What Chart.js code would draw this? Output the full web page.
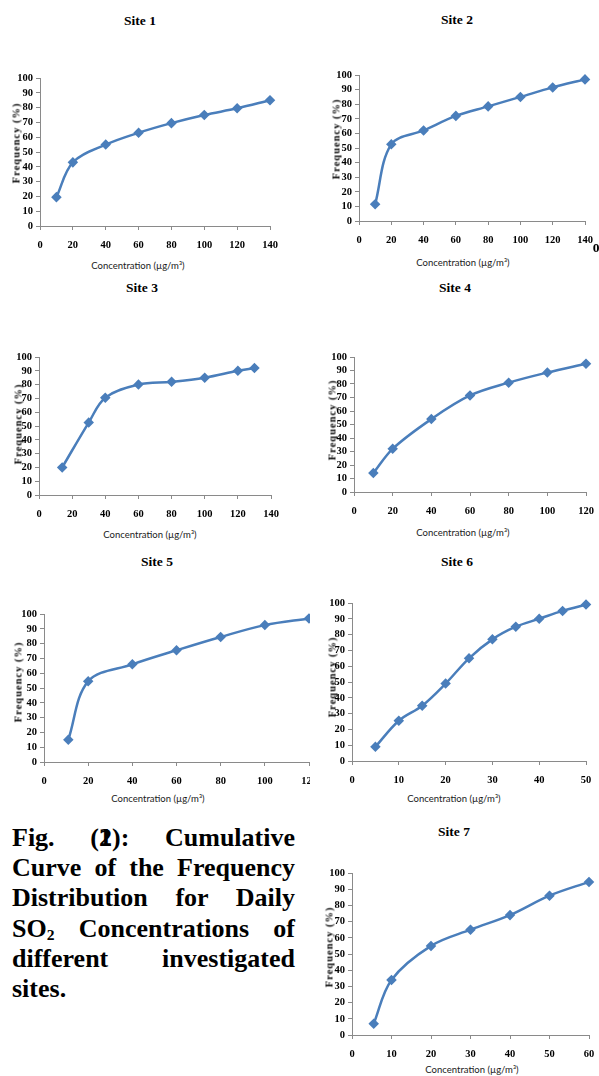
<!DOCTYPE html>
<html>
<head>
<meta charset="utf-8">
<script src="https://cdn.jsdelivr.net/npm/chart.js@4.4.0/dist/chart.umd.min.js"></script>
<style>
  html, body { margin: 0; padding: 0; background: #fff; overflow: hidden; }
  body { width: 599px; height: 1076px; position: relative; }
  .wrap { position: absolute; overflow: hidden; }
  .txt { position: absolute; white-space: nowrap; transform: translate(-50%, -50%); color: #000; }
  .site { font: bold 13.5px "Liberation Serif", serif; }
  .xt { font: 9.5px Lato, "Liberation Sans", sans-serif; color: #1a1a1a; }
  .yt { font: bold 10.5px "Liberation Serif", serif; letter-spacing: 1px; transform: translate(-50%, -50%) rotate(-90deg); }
  #caption { position: absolute; left: 12px; top: 823px; width: 283px;
             font: bold 26px "Liberation Serif", "Times New Roman", serif; line-height: 30.2px; }
  #caption div { text-align: justify; text-align-last: justify; white-space: nowrap; }
  #caption div.last { text-align-last: left; }
  #caption sub { font-size: 0.6em; line-height: 0; vertical-align: -0.2em; }
</style>
</head>
<body>

<div id="caption">
  <div>Fig. (<span style="position:relative">2<span style="position:absolute;left:0">1</span></span>): Cumulative</div>
  <div>Curve of the Frequency</div>
  <div>Distribution for Daily</div>
  <div>SO<sub>2</sub> Concentrations of</div>
  <div>different investigated</div>
  <div class="last">sites.</div>
</div>

<script>
// cumulative frequency (%) against concentration (µg/m³), one pair of arrays per site
const site1Conc = [10, 20, 40, 60, 80, 100, 120, 140];
const site1Freq = [19.5, 43, 55, 63, 69.5, 75, 79.5, 85];

const site2Conc = [10, 20, 40, 60, 80, 100, 120, 140];
const site2Freq = [11.5, 52.5, 62, 72, 78.5, 85, 91.5, 97];

const site3Conc = [14, 30, 40, 60, 80, 100, 120, 130];
const site3Freq = [20, 52.5, 70.5, 80, 82, 85, 90, 92];

const site4Conc = [10, 20, 40, 60, 80, 100, 120];
const site4Freq = [14, 32, 54, 71.5, 81, 88.5, 95];

const site5Conc = [11, 20, 40, 60, 80, 100, 120];
const site5Freq = [15, 54.5, 66, 75.5, 84.5, 92.5, 97];

const site6Conc = [5, 10, 15, 20, 25, 30, 35, 40, 45, 50];
const site6Freq = [9, 25.5, 35, 49, 65, 77, 85, 90, 95, 99];

const site7Conc = [5.5, 10, 20, 30, 40, 50, 60];
const site7Freq = [7, 34, 55, 65, 74, 86, 94.5];

// tick labels
const freqTicks = [0, 10, 20, 30, 40, 50, 60, 70, 80, 90, 100];
const concTicks140 = [0, 20, 40, 60, 80, 100, 120, 140];
const concTicks120 = [0, 20, 40, 60, 80, 100, 120];
const concTicks50 = [0, 10, 20, 30, 40, 50];
const concTicks60 = [0, 10, 20, 30, 40, 50, 60];

const siteNames = ['Site 1', 'Site 2', 'Site 3', 'Site 4', 'Site 5', 'Site 6', 'Site 7'];
const xTitle = 'Concentration (µg/m³)';
const yTitle = 'Frequency (%)';

// layout: plot area edges, then where the texts sit (page pixels)
const sites = [
  { conc: site1Conc, freq: site1Freq, ticks: concTicks140, box: {l: 40, r: 270, t: 78, b: 226},
    title: [140, 21], xt: [138, 265], yt: [16, 143] },
  { conc: site2Conc, freq: site2Freq, ticks: concTicks140, box: {l: 359, r: 585, t: 75, b: 221},
    title: [457, 20], xt: [463, 262], yt: [336, 139] },
  { conc: site3Conc, freq: site3Freq, ticks: concTicks140, box: {l: 39, r: 271, t: 357, b: 495},
    title: [142, 288], xt: [150, 534], yt: [18, 424] },
  { conc: site4Conc, freq: site4Freq, ticks: concTicks120, box: {l: 354, r: 586, t: 357, b: 492},
    title: [455, 288], xt: [463, 532], yt: [332, 420] },
  { conc: site5Conc, freq: site5Freq, ticks: concTicks120, box: {l: 43.5, r: 309, t: 614, b: 762},
    title: [157, 562], xt: [158, 798], yt: [18, 682], clipRight: 310 },
  { conc: site6Conc, freq: site6Freq, ticks: concTicks50, box: {l: 352, r: 586, t: 603, b: 761},
    title: [457, 562], xt: [454, 798], yt: [332, 677] },
  { conc: site7Conc, freq: site7Freq, ticks: concTicks60, box: {l: 352, r: 589, t: 873, b: 1035},
    title: [454, 832], xt: [472, 1069], yt: [329, 947] }
];

// scale sizes are pinned so the plot boxes land where the reference has them
const Y_W = 30, X_H = 28, PAD_T = 12, PAD_R = 20;
const lineBlue = '#4A7EBB';
const axisGrey = '#8a8a8a';
const tickFont = { family: 'Liberation Serif', weight: 'bold', size: 10.5 };

function addText(cls, text, pos) {
  const d = document.createElement('div');
  d.className = 'txt ' + cls;
  d.textContent = text;
  d.style.left = pos[0] + 'px';
  d.style.top = pos[1] + 'px';
  document.body.appendChild(d);
}

function makeSite(s, i) {
  const left = s.box.l - Y_W;
  const top = s.box.t - PAD_T;
  const width = s.box.r + PAD_R - left;
  const height = s.box.b + X_H - top;

  const wrap = document.createElement('div');
  wrap.className = 'wrap';
  wrap.style.left = left + 'px';
  wrap.style.top = top + 'px';
  wrap.style.width = ((s.clipRight ? s.clipRight : left + width) - left) + 'px';
  wrap.style.height = height + 'px';
  const canvas = document.createElement('canvas');
  canvas.width = width;
  canvas.height = height;
  canvas.style.width = width + 'px';
  canvas.style.height = height + 'px';
  wrap.appendChild(canvas);
  document.body.appendChild(wrap);

  new Chart(canvas.getContext('2d'), {
    type: 'line',
    data: {
      datasets: [{
        data: s.conc.map((c, k) => ({ x: c, y: s.freq[k] })),
        borderColor: lineBlue,
        backgroundColor: lineBlue,
        borderWidth: 2.5,
        pointStyle: 'rectRot',
        pointRadius: 3.5,
        pointBackgroundColor: lineBlue,
        pointBorderColor: lineBlue,
        tension: 0.35,
        clip: false
      }]
    },
    options: {
      responsive: false,
      animation: false,
      devicePixelRatio: 1,
      layout: { padding: { top: PAD_T, right: PAD_R, left: 0, bottom: 0 } },
      plugins: { legend: { display: false }, tooltip: { enabled: false }, title: { display: false } },
      scales: {
        x: {
          type: 'linear',
          min: s.ticks[0],
          max: s.ticks[s.ticks.length - 1],
          afterBuildTicks: sc => { sc.ticks = s.ticks.map(v => ({ value: v })); },
          afterFit: sc => { sc.height = X_H; },
          border: { display: true, color: axisGrey, width: 1 },
          grid: { drawOnChartArea: false, drawTicks: true, tickLength: 4, color: axisGrey },
          ticks: { color: '#000', font: tickFont, padding: 9, maxRotation: 0, autoSkip: false }
        },
        y: {
          min: freqTicks[0],
          max: freqTicks[freqTicks.length - 1],
          afterBuildTicks: sc => { sc.ticks = freqTicks.map(v => ({ value: v })); },
          afterFit: sc => { sc.width = Y_W; },
          border: { display: true, color: axisGrey, width: 1 },
          grid: { drawOnChartArea: false, drawTicks: true, tickLength: 4, color: axisGrey },
          ticks: { color: '#000', font: tickFont, padding: 3, autoSkip: false }
        }
      }
    }
  });

  addText('site', siteNames[i], s.title);
  addText('xt', xTitle, s.xt);
  addText('yt', yTitle, s.yt);
}

sites.forEach(makeSite);

// stray digit left at the right edge of the Site 2 panel
addText('site', '0', [596, 248]);
</script>
</body>
</html>
